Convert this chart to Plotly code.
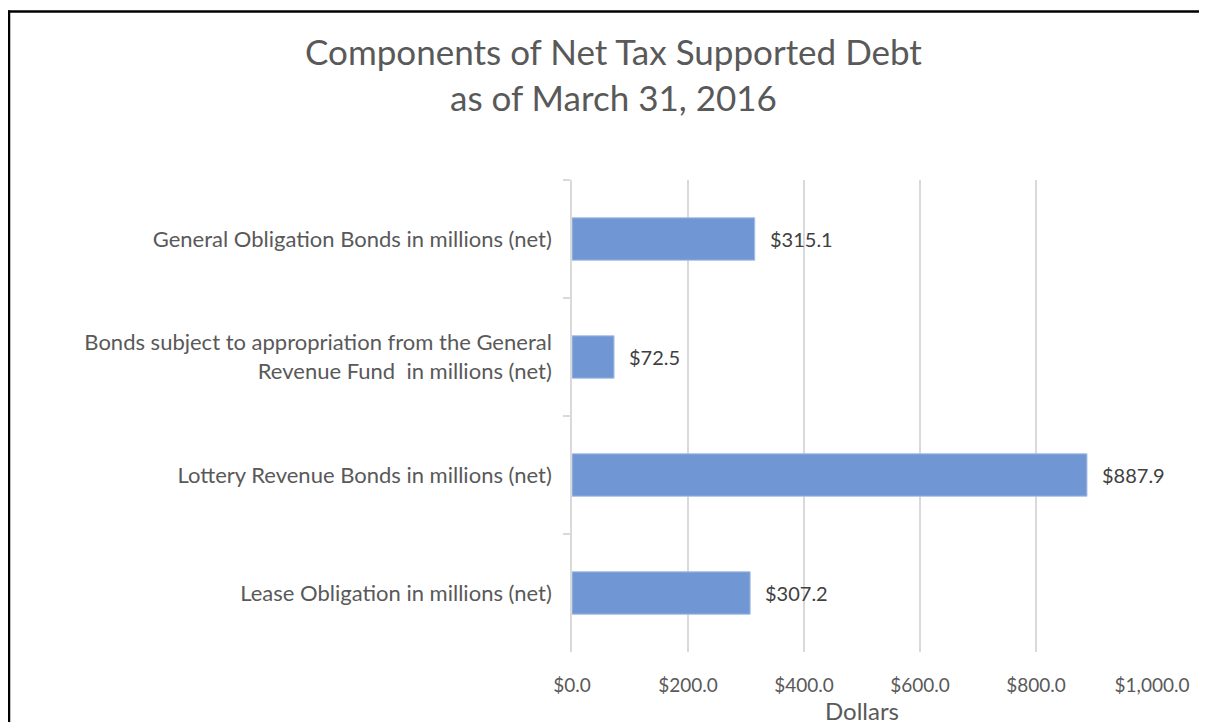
import plotly.graph_objects as go

categories = [
    "General Obligation Bonds in millions (net)",
    "Bonds subject to appropriation from the General<br>Revenue Fund  in millions (net)",
    "Lottery Revenue Bonds in millions (net)",
    "Lease Obligation in millions (net)",
]
values = [315.1, 72.5, 887.9, 307.2]
value_labels = ["$315.1", "$72.5", "$887.9", "$307.2"]
x_tickvals = [0, 200, 400, 600, 800, 1000]
x_ticktext = ["$0.0", "$200.0", "$400.0", "$600.0", "$800.0", "$1,000.0"]

# page body has an 8px margin, so the figure is sized to fit the window
W, H = 1199, 717
L, R, T, B = 564, 55, 172, 66
PW, PH = W - L - R, H - T - B

FONT = "Lato"
GREY = "#595959"
GRID = "#D9D9D9"

fig = go.Figure(
    go.Bar(
        x=values,
        y=categories,
        orientation="h",
        marker=dict(color="#7097D4", line=dict(color="#A9C1E6", width=1)),
        width=0.36,
        hoverinfo="x+y",
    )
)

for v, c, t in zip(values, categories, value_labels):
    fig.add_annotation(
        x=v, y=c, text=t, showarrow=False, xanchor="left", xshift=13,
        font=dict(family=FONT, size=20, color="#404040"),
    )

# outer border (left and top edges, as in the cropped reference)
def px_x(px):
    return (px - L) / PW

def px_y(py):
    return (H - B - py) / PH

fig.add_shape(type="line", xref="paper", yref="paper",
              x0=px_x(1), x1=px_x(1), y0=px_y(0), y1=px_y(H + 5),
              line=dict(color="black", width=2.5))
fig.add_shape(type="line", xref="paper", yref="paper",
              x0=px_x(0), x1=px_x(W + 5), y0=px_y(1), y1=px_y(1),
              line=dict(color="black", width=2.5))

fig.update_layout(
    width=W, height=H,
    margin=dict(l=L, r=R, t=T, b=B),
    paper_bgcolor="white", plot_bgcolor="white",
    showlegend=False,
    title=dict(
        text="Components of Net Tax Supported Debt<br>as of March 31, 2016",
        x=0.505, xanchor="center", xref="container",
        y=0.92, yanchor="top", yref="container",
        font=dict(family=FONT, size=35, color=GREY),
    ),
    xaxis=dict(
        range=[0, 1000],
        tickvals=x_tickvals, ticktext=x_ticktext,
        showgrid=True, gridcolor=GRID, gridwidth=1.5,
        zeroline=False, showline=False,
        ticks="", ticklabelstandoff=20,
        tickfont=dict(family=FONT, size=19, color=GREY),
        title=dict(text="Dollars", standoff=0,
                   font=dict(family=FONT, size=24, color=GREY)),
    ),
    yaxis=dict(
        autorange="reversed",
        showline=True, linecolor=GRID, linewidth=1.5,
        ticks="outside", tickson="boundaries", ticklen=7, tickcolor=GRID, tickwidth=1.5,
        showgrid=False, ticklabelstandoff=14,
        tickfont=dict(family=FONT, size=22, color=GREY),
    ),
    bargap=0.64,
)

fig.write_html("out.html")
